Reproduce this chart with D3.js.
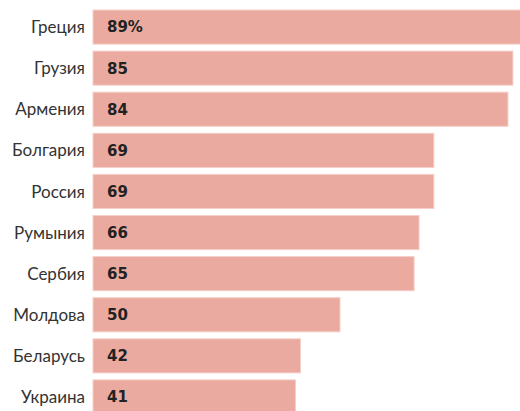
<!DOCTYPE html>
<html><head><meta charset="utf-8">
<script src="https://cdn.jsdelivr.net/npm/d3@7"></script>
<style>body{margin:0;background:#fff;overflow:hidden}svg{display:block}</style>
</head><body>
<svg id="c" width="520" height="411"></svg>
<script>
const countries = ["Греция","Грузия","Армения","Болгария","Россия","Румыния","Сербия","Молдова","Беларусь","Украина"];
const values = [89,85,84,69,69,66,65,50,42,41];
const valueLabels = ["89%","85","84","69","69","66","65","50","42","41"];

const svg = d3.select("#c");
const x = d3.scaleLinear().domain([0,100]).range([93,587]);
const y = d3.scaleBand().domain(countries).range([6.5,417.5]).paddingInner(0.17).paddingOuter(0.085);

const g = svg.append("g");
g.selectAll("rect").data(countries).join("rect")
  .attr("x", x(0)).attr("y", d=>y(d))
  .attr("width", (d,i)=>x(values[i])-x(0)).attr("height", y.bandwidth())
  .attr("fill","#EBAAA0").attr("stroke","#F5CFC8").attr("stroke-width",1);

g.selectAll("text.v").data(countries).join("text").attr("class","v")
  .attr("x", x(0)+14).attr("y", d=>y(d)+y.bandwidth()/2)
  .attr("dy","0.36em")
  .attr("font-family","DejaVu Sans").attr("font-weight","bold").attr("font-size",15)
  .attr("fill","#222").text((d,i)=>valueLabels[i]);

g.selectAll("text.c").data(countries).join("text").attr("class","c")
  .attr("x", 85).attr("y", d=>y(d)+y.bandwidth()/2)
  .attr("dy","0.36em").attr("text-anchor","end")
  .attr("font-family","Lato").attr("font-size",17)
  .attr("fill","#333").text(d=>d);
</script>
</body></html>
